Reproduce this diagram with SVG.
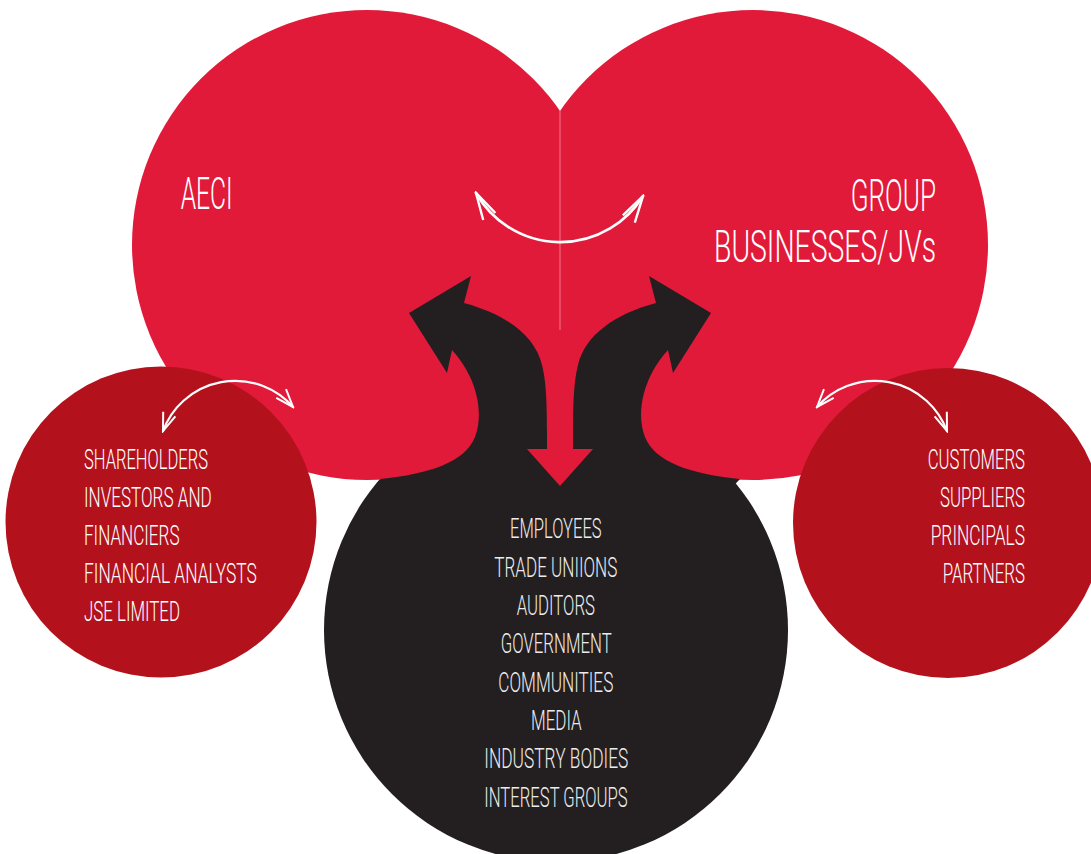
<svg xmlns="http://www.w3.org/2000/svg" xmlns:xlink="http://www.w3.org/1999/xlink" width="1091" height="854" viewBox="0 0 1091 854">
  <style>
    .lbl { font-family: Roboto, "Liberation Sans", sans-serif; font-weight: 300; fill: #ffffff; }
    .big { font-size: 45px; }
    .small { font-size: 28px; }
    .grey { fill: #ececec; }
    .swing { fill: none; stroke: #ffffff; stroke-linecap: round; }
  </style>
  <defs>
    <marker id="chevBig" markerUnits="userSpaceOnUse" viewBox="-30 -10 32 20" markerWidth="32" markerHeight="20" refX="0" refY="0" orient="auto-start-reverse">
      <path d="M-27,-7 L0,0 L-27,7" fill="none" stroke="#ffffff" stroke-width="2.4" stroke-linejoin="miter"/>
    </marker>
    <marker id="chevSmall" markerUnits="userSpaceOnUse" viewBox="-22 -10 24 20" markerWidth="24" markerHeight="20" refX="0" refY="0" orient="auto-start-reverse">
      <path d="M-18,-6.5 L0,0 L-18,6.5" fill="none" stroke="#ffffff" stroke-width="2" stroke-linejoin="miter"/>
    </marker>
    <!-- curved black arrow rising from the lower circle, pointing up-left -->
    <path id="bendArrow" d="M409,313 L471,276 L464,303 C505,314 535,335 542,365 C547,385 547,410 547,450 L547,500 L400,500 L380,479 C430,474 465,462 475,437 C485,410 475,375 452,350 L447,373 Z"/>
  </defs>

  <!-- lower stakeholder circle -->
  <g id="node-stakeholders">
    <circle cx="556" cy="630" r="232" fill="#231f20"/>
  </g>

  <!-- the two large circles -->
  <g id="node-aeci">
    <circle cx="367" cy="245" r="235" fill="#e21a39"/>
  </g>
  <g id="node-group">
    <circle cx="753" cy="245" r="235" fill="#e21a39"/>
    <line x1="560" y1="111" x2="560" y2="330" stroke="#f07b8b" stroke-width="1"/>
  </g>

  <!-- side circles -->
  <g id="node-investors">
    <circle cx="161" cy="522" r="155.5" fill="#b3121d"/>
  </g>
  <g id="node-customers">
    <circle cx="948" cy="523" r="155" fill="#b3121d"/>
  </g>

  <!-- connectors -->
  <g id="connectors">
    <!-- red backing where the large circles and the lower circle leave a gap -->
    <rect x="530" y="360" width="60" height="70" fill="#e21a39"/>
    <use xlink:href="#bendArrow" fill="#231f20"/>
    <use xlink:href="#bendArrow" fill="#231f20" transform="translate(1120,0) scale(-1,1)"/>
    <polygon points="547,330 573,330 573,449 593,449 560,486 527,449 547,449" fill="#e21a39"/>
    <path class="swing" d="M476,193 A97 97 0 0 0 643,196" stroke-width="2.6" marker-start="url(#chevBig)" marker-end="url(#chevBig)"/>
    <path class="swing" d="M163,431 A77 77 0 0 1 293,407" stroke-width="2.2" marker-start="url(#chevSmall)" marker-end="url(#chevSmall)"/>
    <path class="swing" d="M817,407 A77 77 0 0 1 947,431" stroke-width="2.2" marker-start="url(#chevSmall)" marker-end="url(#chevSmall)"/>
  </g>

  <!-- labels -->
  <g id="label-aeci">
    <text class="lbl big" x="180.7" y="208.5" textLength="52" lengthAdjust="spacingAndGlyphs">AECI</text>
  </g>
  <g id="label-group">
    <text class="lbl big" x="850.7" y="210.5" textLength="85.3" lengthAdjust="spacingAndGlyphs">GROUP</text>
    <text class="lbl big" x="714" y="262" textLength="222" lengthAdjust="spacingAndGlyphs">BUSINESSES/JVs</text>
  </g>
  <g id="label-investors">
    <text class="lbl small" x="84" y="469.3" textLength="124" lengthAdjust="spacingAndGlyphs">SHAREHOLDERS</text>
    <text class="lbl small" x="84" y="507" textLength="127.7" lengthAdjust="spacingAndGlyphs">INVESTORS AND</text>
    <text class="lbl small" x="84" y="545" textLength="95.5" lengthAdjust="spacingAndGlyphs">FINANCIERS</text>
    <text class="lbl small" x="84" y="583.3" textLength="172.7" lengthAdjust="spacingAndGlyphs">FINANCIAL ANALYSTS</text>
    <text class="lbl small" x="84" y="620.5" textLength="96" lengthAdjust="spacingAndGlyphs">JSE LIMITED</text>
  </g>
  <g id="label-stakeholders">
    <text class="lbl small grey" x="510" y="538.3" textLength="91.7" lengthAdjust="spacingAndGlyphs">EMPLOYEES</text>
    <text class="lbl small grey" x="494.3" y="576.7" textLength="123" lengthAdjust="spacingAndGlyphs">TRADE UNIIONS</text>
    <text class="lbl small grey" x="516.7" y="615" textLength="78.3" lengthAdjust="spacingAndGlyphs">AUDITORS</text>
    <text class="lbl small grey" x="500.7" y="653.3" textLength="111" lengthAdjust="spacingAndGlyphs">GOVERNMENT</text>
    <text class="lbl small grey" x="498.3" y="691.7" textLength="115" lengthAdjust="spacingAndGlyphs">COMMUNITIES</text>
    <text class="lbl small grey" x="531" y="730" textLength="50.7" lengthAdjust="spacingAndGlyphs">MEDIA</text>
    <text class="lbl small grey" x="484.3" y="768.3" textLength="144" lengthAdjust="spacingAndGlyphs">INDUSTRY BODIES</text>
    <text class="lbl small grey" x="484.3" y="806.7" textLength="143.4" lengthAdjust="spacingAndGlyphs">INTEREST GROUPS</text>
  </g>
  <g id="label-customers">
    <text class="lbl small" x="927.7" y="469" textLength="97.3" lengthAdjust="spacingAndGlyphs">CUSTOMERS</text>
    <text class="lbl small" x="940" y="507" textLength="85" lengthAdjust="spacingAndGlyphs">SUPPLIERS</text>
    <text class="lbl small" x="930.7" y="545" textLength="94.3" lengthAdjust="spacingAndGlyphs">PRINCIPALS</text>
    <text class="lbl small" x="942.7" y="583" textLength="82.3" lengthAdjust="spacingAndGlyphs">PARTNERS</text>
  </g>
</svg>
